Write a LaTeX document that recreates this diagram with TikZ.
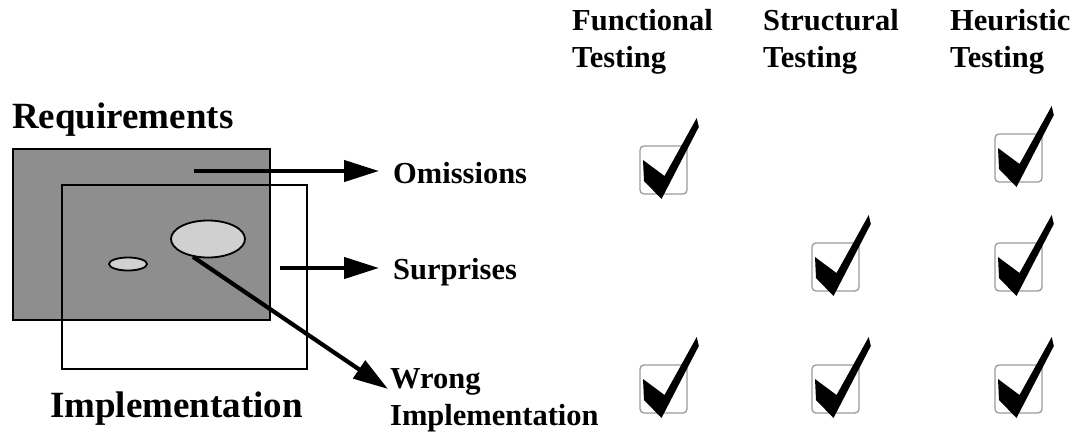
\documentclass[tikz,border=0pt]{standalone}
\usepackage{fontspec}
\setmainfont{Liberation Serif}
\usetikzlibrary{arrows.meta,shapes.geometric}
\definecolor{reqgray}{HTML}{8E8E8E}
\definecolor{holegray}{HTML}{D0D0D0}
\definecolor{boxgray}{HTML}{9A9A9A}
\tikzset{
  bigtext/.style={font=\fontsize{37}{44}\selectfont\bfseries, inner sep=0pt, anchor=base west},
  lbl/.style={font=\fontsize{30.5}{37}\selectfont\bfseries, inner sep=0pt, anchor=base west, align=left},
  fatarrow/.style={line width=4.2pt, -{Triangle[length=35pt,width=21pt]}},
  hole/.style={ellipse, draw, line width=1.8pt, fill=holegray, inner sep=0pt},
  checkbox/.pic={
    \draw[boxgray, line width=1.3pt, rounded corners=4pt] (0,0) rectangle (47,48);
    \fill[black] (3,14) -- (24.5,30) -- (56.7,-28) -- (58.8,-19) -- (21.5,53) -- (4,35) -- cycle;
  }
}
\begin{document}
\begin{tikzpicture}[x=1pt,y=-1pt]
\useasboundingbox (0,0) rectangle (1083,434);
% areas
\node[draw, line width=2pt, fill=reqgray, minimum width=257pt, minimum height=171pt, inner sep=0pt, anchor=north west] (req) at (12,148) {};
\node[draw, line width=1.5pt, minimum width=245pt, minimum height=184pt, inner sep=0pt, anchor=north west] (impl) at (61,184) {};
\node[hole, minimum width=74pt, minimum height=37pt] (bigE) at (208,239) {};
\node[hole, minimum width=38pt, minimum height=13pt] (smallE) at (128,264) {};
% titles
\node[bigtext] (reqlbl) at (12,128) {Requirements};
\node[bigtext] (impllbl) at (50,417) {Implementation};
% labels
\node[lbl] (om) at (393,183) {Omissions};
\node[lbl] (su) at (393,279) {Surprises};
\node[lbl] (wr) at (390,425) {Wrong\\Implementation};
% arrows
\coordinate (a1s) at (194,171);
\coordinate (a2s) at (280,268);
\draw[fatarrow, shorten >=14pt] (a1s) -- (om.west |- a1s);
\draw[fatarrow, shorten >=14pt] (a2s) -- (su.west |- a2s);
\draw[fatarrow] (bigE.230) -- (388,389);
% headers
\node[lbl] (h1) at (572,67) {Functional\\Testing};
\node[lbl] (h2) at (763,67) {Structural\\Testing};
\node[lbl] (h3) at (950,67) {Heuristic\\Testing};
% checks
\pic at (640,146) {checkbox};
\pic at (995,134) {checkbox};
\pic at (812,243) {checkbox};
\pic at (995,243) {checkbox};
\pic at (640,365) {checkbox};
\pic at (812,365) {checkbox};
\pic at (995,365) {checkbox};
\end{tikzpicture}
\end{document}
